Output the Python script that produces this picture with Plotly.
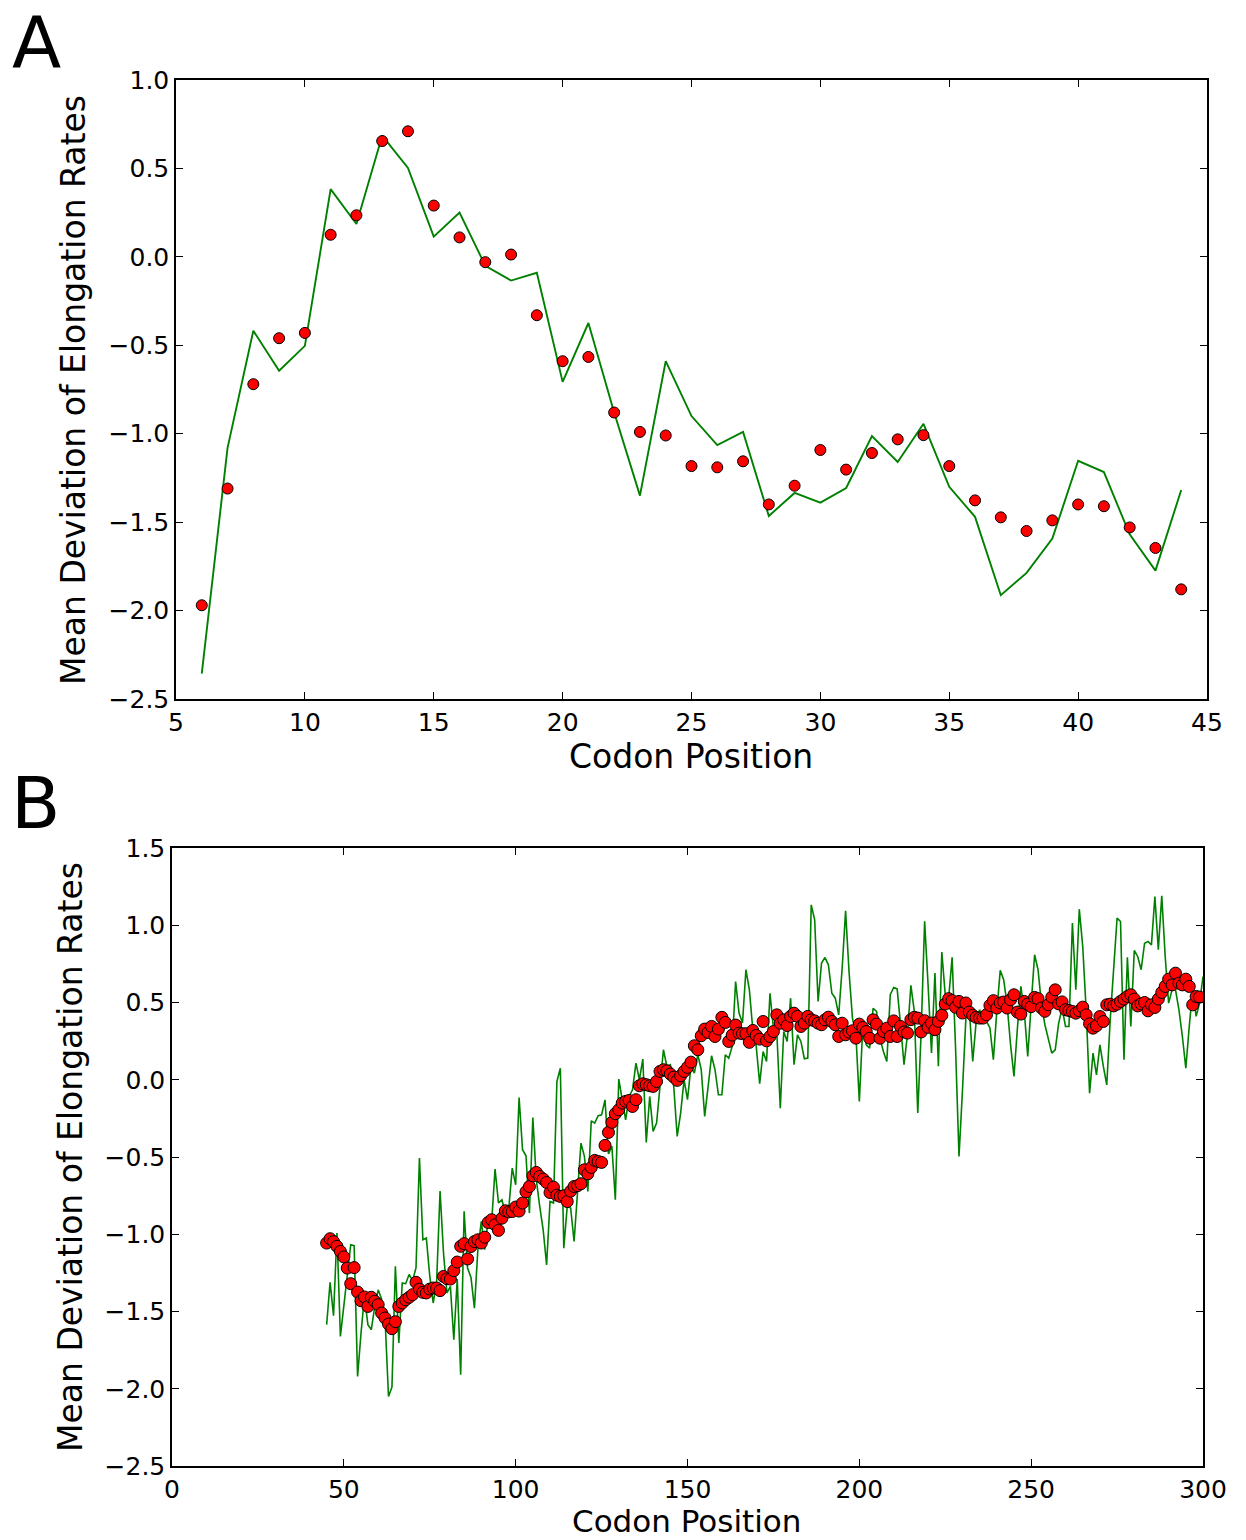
import plotly.graph_objects as go

# ---------------- Panel A data ----------------
a_codons = list(range(6, 45))
a_points = [-1.97, -1.31, -0.72, -0.46, -0.43, 0.125, 0.235, 0.655, 0.71, 0.29,
            0.11, -0.03, 0.013, -0.33, -0.59, -0.566, -0.88, -0.99, -1.01, -1.183,
            -1.19, -1.156, -1.40, -1.294, -1.092, -1.203, -1.109, -1.032, -1.008, -1.183,
            -1.377, -1.473, -1.55, -1.49, -1.40, -1.41, -1.53, -1.646, -1.88]
a_line = [-2.356, -1.08, -0.418, -0.644, -0.503, 0.383, 0.186, 0.685, 0.503, 0.114,
          0.25, -0.05, -0.134, -0.09, -0.707, -0.374, -0.88, -1.35, -0.59, -0.90,
          -1.064, -0.99, -1.465, -1.335, -1.39, -1.307, -1.013, -1.16, -0.944, -1.30,
          -1.47, -1.913, -1.787, -1.593, -1.153, -1.217, -1.569, -1.774, -1.318]

# ---------------- Panel B data ----------------
b_point_codons = list(range(45, 300))
b_points = [
    -1.057, -1.029, -1.048, -1.078, -1.111, -1.147, -1.219, -1.320, -1.216, -1.374,
    -1.43, -1.406, -1.467, -1.408, -1.434, -1.456, -1.51, -1.542, -1.581, -1.611,
    -1.566, -1.467, -1.445, -1.424, -1.408, -1.391, -1.311, -1.355, -1.376, -1.38,
    -1.355, -1.348, -1.348, -1.365, -1.273, -1.288, -1.29, -1.236, -1.18, -1.078,
    -1.061, -1.16, -1.079, -1.047, -1.036, -1.057, -1.019, -0.924, -0.906, -0.939,
    -0.975, -0.896, -0.848, -0.855, -0.853, -0.824, -0.85, -0.798, -0.725, -0.691,
    -0.622, -0.60, -0.626, -0.643, -0.665, -0.73, -0.695, -0.747, -0.755, -0.751,
    -0.788, -0.721, -0.691, -0.686, -0.673, -0.583, -0.609, -0.568, -0.522, -0.529,
    -0.535, -0.425, -0.341, -0.276, -0.22, -0.194, -0.151, -0.14, -0.134, -0.173,
    -0.129, -0.039, -0.026, -0.032, -0.039, -0.043, -0.011, 0.054, 0.065, 0.058,
    0.037, 0.017, -0.004, 0.026, 0.054, 0.08, 0.114, 0.22, 0.194, 0.285,
    0.328, 0.306, 0.345, 0.28, 0.328, 0.404, 0.371, 0.248, 0.289, 0.354,
    0.302, 0.298, 0.298, 0.242, 0.319, 0.287, 0.263, 0.377, 0.252, 0.28,
    0.312, 0.42, 0.366, 0.388, 0.351, 0.41, 0.431, 0.41, 0.345, 0.366,
    0.41, 0.388, 0.381, 0.366, 0.356, 0.388, 0.405, 0.377, 0.356, 0.28,
    0.366, 0.291, 0.308, 0.317, 0.269, 0.36, 0.338, 0.312, 0.269, 0.388,
    0.36, 0.269, 0.312, 0.334, 0.28, 0.381, 0.28, 0.345, 0.31, 0.302,
    0.389, 0.404, 0.399, 0.309, 0.382, 0.339, 0.367, 0.324, 0.378, 0.417,
    0.49, 0.525, 0.512, 0.469, 0.507, 0.432, 0.497, 0.438, 0.417, 0.404,
    0.399, 0.399, 0.421, 0.481, 0.512, 0.464, 0.497, 0.503, 0.464, 0.518,
    0.55, 0.438, 0.425, 0.507, 0.49, 0.473, 0.533, 0.525, 0.464, 0.443,
    0.486, 0.535, 0.582, 0.491, 0.504, 0.453, 0.448, 0.442, 0.431, 0.446,
    0.47, 0.42, 0.362, 0.334, 0.349, 0.409, 0.377, 0.485, 0.489, 0.478,
    0.489, 0.507, 0.522, 0.539, 0.55, 0.522, 0.478, 0.491, 0.5, 0.446,
    0.485, 0.468, 0.522, 0.565, 0.604, 0.651, 0.614, 0.69, 0.625, 0.614,
    0.651, 0.604, 0.485, 0.539, 0.535,
]
b_line_codons = list(range(45, 301))
b_line = [
    -1.585, -1.311, -1.527, -0.992, -1.661, -1.45, -1.25, -1.068, -1.074, -1.92,
    -1.64, -1.40, -1.585, -1.618, -1.467, -1.36, -1.42, -1.55, -2.05, -1.99,
    -1.207, -1.704, -1.316, -1.32, -1.26, -1.30, -1.218, -0.507, -1.035, -1.024,
    -1.27, -1.445, -1.31, -0.72, -1.121, -1.38, -1.337, -1.683, -1.29, -1.909,
    -0.852, -1.219, -1.28, -1.478, -1.10, -0.917, -1.10, -0.906, -0.928, -0.578,
    -0.798, -0.777, -0.863, -0.831, -0.572, -0.68, -0.115, -0.453, -0.492, -0.863,
    -0.244, -0.647, -0.82, -0.971, -1.198, -0.788, -0.798, -0.011, 0.075, -1.09,
    -0.82, -0.83, -1.047, -0.734, -0.41, -0.496, -0.723, -0.266, -0.281, -0.233,
    -0.227, -0.13, -0.48, -0.43, -0.777, 0.004, -0.14, -0.259, -0.108, -0.065,
    0.108, 0.0, 0.134, -0.406, -0.108, -0.334, -0.28, -0.043, 0.194, 0.086,
    0.097, -0.043, -0.367, -0.216, 0.0, -0.129, 0.086, 0.043, 0.162, 0.065,
    -0.237, -0.043, 0.155, 0.065, -0.097, -0.097, 0.162, 0.14, 0.216, 0.636,
    0.432, 0.367, 0.712, 0.583, 0.324, 0.216, -0.025, 0.183, 0.118, 0.56,
    0.334, 0.302, -0.184, 0.312, 0.248, 0.528, 0.097, 0.291, 0.248, 0.136,
    0.14, 1.132, 1.035, 0.507, 0.755, 0.791, 0.744, 0.56, 0.528, 0.42,
    0.722, 1.093, 0.701, 0.399, 0.291, -0.141, 0.345, 0.226, 0.205, 0.463,
    0.442, 0.269, 0.183, 0.118, 0.55, 0.597, 0.588, 0.356, 0.097, 0.292,
    0.611, 0.443, -0.215, 0.313, 1.025, 0.615, 0.173, 0.691, 0.087, 0.827,
    0.55, 0.529, 0.792, 0.205, -0.496, -0.075, 0.399, 0.453, 0.119, 0.378,
    0.453, 0.399, 0.378, 0.335, 0.13, 0.443, 0.708, 0.648, 0.486, 0.227,
    0.022, 0.335, 0.604, 0.443, 0.151, 0.486, 0.809, 0.712, 0.486, 0.356,
    0.265, 0.172, 0.194, 0.366, 0.463, 0.345, 0.345, 1.014, 0.582, 1.104,
    0.863, 0.453, -0.087, 0.172, 0.032, 0.226, 0.086, -0.033, 0.388, 0.755,
    1.046, 1.024, 0.129, 0.793, 0.345, 0.837, 0.798, 0.712, 0.884, 0.895,
    0.873, 1.186, 0.841, 1.19, 0.798, 0.496, 0.582, 0.582, 0.453, 0.28,
    0.075, 0.345, 0.582, 0.41, 0.496, 0.668,
]

a_xticks = [5, 10, 15, 20, 25, 30, 35, 40, 45]
b_xticks = [0, 50, 100, 150, 200, 250, 300]
a_yticks = [-2.5, -2.0, -1.5, -1.0, -0.5, 0.0, 0.5, 1.0]
b_yticks = [-2.5, -2.0, -1.5, -1.0, -0.5, 0.0, 0.5, 1.0, 1.5]

ylabel = "Mean Deviation of Elongation Rates"
xlabel = "Codon Position"

W, H = 1246, 1540
GREEN = "#008000"
RED = "#ff0000"
FONT = "DejaVu Sans"

fig = go.Figure()

fig.add_trace(go.Scatter(x=a_codons, y=a_line, mode="lines",
                         line=dict(color=GREEN, width=1.9),
                         xaxis="x", yaxis="y", showlegend=False))
fig.add_trace(go.Scatter(x=a_codons, y=a_points, mode="markers",
                         marker=dict(color=RED, size=11, line=dict(color="black", width=1)),
                         xaxis="x", yaxis="y", showlegend=False))
fig.add_trace(go.Scatter(x=b_line_codons, y=b_line, mode="lines",
                         line=dict(color=GREEN, width=1.6),
                         xaxis="x2", yaxis="y2", showlegend=False))
fig.add_trace(go.Scatter(x=b_point_codons, y=b_points, mode="markers",
                         marker=dict(color=RED, size=12, line=dict(color="black", width=1)),
                         xaxis="x2", yaxis="y2", showlegend=False))

axis_common = dict(showgrid=False, zeroline=False, showline=True, linecolor="black",
                   linewidth=1.5, mirror="allticks", ticks="inside", ticklen=7,
                   tickwidth=1, tickcolor="black", automargin=False,
                   tickfont=dict(family=FONT, size=25, color="black"))

fig.update_layout(
    width=W, height=H,
    margin=dict(l=0, r=0, t=0, b=0, pad=0, autoexpand=False),
    paper_bgcolor="white", plot_bgcolor="white",
    xaxis=dict(domain=[176 / W, 1207 / W], range=[5, 45], tickvals=a_xticks,
               anchor="y", **axis_common),
    yaxis=dict(domain=[1 - 699 / H, 1 - 80 / H], range=[-2.5, 1.0], tickvals=a_yticks,
               tickformat=".1f", anchor="x", **axis_common),
    xaxis2=dict(domain=[172 / W, 1203 / W], range=[0, 300], tickvals=b_xticks,
                anchor="y2", **axis_common),
    yaxis2=dict(domain=[1 - 1466 / H, 1 - 848 / H], range=[-2.5, 1.5], tickvals=b_yticks,
                tickformat=".1f", anchor="x2", **axis_common),
)

ann_font = dict(family=FONT, size=33, color="black")
annotations = [
    dict(text=ylabel, x=73 / W, y=1 - 390 / H, textangle=-90, font=ann_font),
    dict(text=ylabel, x=70 / W, y=1 - 1157 / H, textangle=-90, font=ann_font),
    dict(text=xlabel, x=691.5 / W, y=1 - 756 / H, font=ann_font),
    dict(text=xlabel, x=687 / W, y=1 - 1521 / H, font=dict(family=FONT, size=31, color="black")),
    dict(text="A", x=36 / W, y=1 - 42 / H, font=dict(family=FONT, size=72, color="black")),
    dict(text="B", x=35 / W, y=1 - 803 / H, font=dict(family=FONT, size=72, color="black")),
]
for a in annotations:
    a.update(xref="paper", yref="paper", showarrow=False, xanchor="center", yanchor="middle")
fig.update_layout(annotations=annotations)

fig.write_html("out.html", config={"displayModeBar": False},
               post_script="document.body.style.margin='0';document.body.style.overflow='hidden';")
